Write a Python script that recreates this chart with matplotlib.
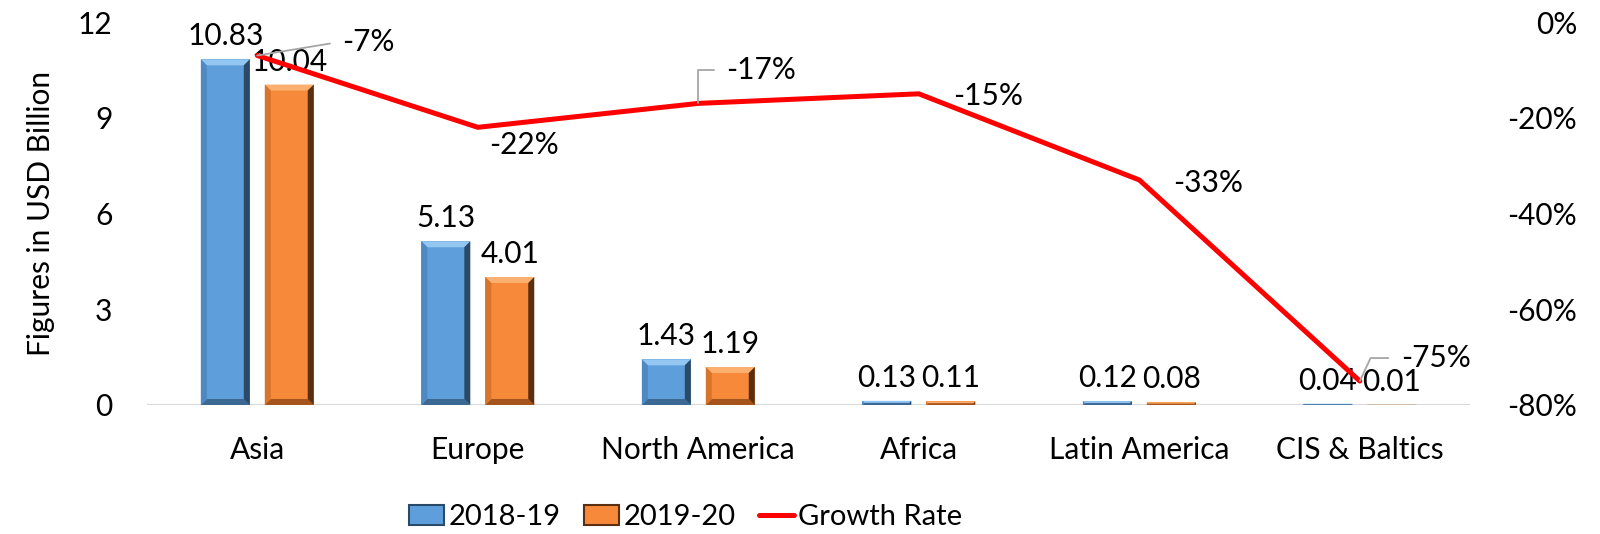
import matplotlib
matplotlib.use('Agg')
import matplotlib.pyplot as plt
from matplotlib.patches import Polygon, Patch
from matplotlib.lines import Line2D
from matplotlib.ticker import FuncFormatter
import numpy as np

# ---- data ----
regions = ['Asia', 'Europe', 'North America', 'Africa', 'Latin America', 'CIS & Baltics']
fy_2018_19 = [10.83, 5.13, 1.43, 0.13, 0.12, 0.04]
fy_2019_20 = [10.04, 4.01, 1.19, 0.11, 0.08, 0.01]
growth_rate = [-0.07, -0.22, -0.17, -0.15, -0.33, -0.75]
growth_labels = ['-7%', '-22%', '-17%', '-15%', '-33%', '-75%']

plt.rcParams['font.family'] = ['Lato', 'DejaVu Sans']
FS = 21.5

BLUE = dict(face='#5E9FDB', top='#93C6F0', left='#4E89C2', right='#2A4A68', bottom='#3C6894')
ORANGE = dict(face='#F6893A', top='#FBB06F', left='#D9742C', right='#5A2E0F', bottom='#A5541B')

fig = plt.figure(figsize=(16, 5.34), dpi=100)
ax = fig.add_axes([0.0919, 0.2416, 0.8269, 0.7172])
ax2 = ax.twinx()

x = np.arange(len(regions))
w = 0.222
off = 0.145

ax.set_xlim(-0.5, len(regions) - 0.5)
ax.set_ylim(0, 12)
ax2.set_ylim(-0.8, 0)

# pixel sizes for the bevel effect
ax_w_px = fig.get_figwidth() * fig.dpi * 0.8269
ax_h_px = fig.get_figheight() * fig.dpi * 0.7172
bev_px = 6
bx = bev_px / (ax_w_px / 6.0)
by_full = bev_px / (ax_h_px / 12.0)


def bevel_bars(xs, vals, pal):
    bars = ax.bar(xs, vals, w, color=pal['face'], edgecolor='none', zorder=2)
    for b in bars:
        x0 = b.get_x()
        x1 = x0 + b.get_width()
        h = b.get_height()
        by = min(by_full, h / 2)
        bxx = bx if h > 2 * by_full else bx * (h / (2 * by_full))
        shapes = [
            ([(x0, h), (x1, h), (x1 - bxx, h - by), (x0 + bxx, h - by)], pal['top']),
            ([(x0, 0), (x1, 0), (x1 - bxx, by), (x0 + bxx, by)], pal['bottom']),
            ([(x0, 0), (x0 + bxx, by), (x0 + bxx, h - by), (x0, h)], pal['left']),
            ([(x1, 0), (x1 - bxx, by), (x1 - bxx, h - by), (x1, h)], pal['right']),
        ]
        for pts, c in shapes:
            ax.add_patch(Polygon(pts, closed=True, facecolor=c, edgecolor='none', zorder=3))
        ax.annotate(f'{h:.2f}', (b.get_x() + b.get_width() / 2, h),
                    xytext=(0, 9), textcoords='offset pixels',
                    ha='center', va='bottom', fontsize=FS, color='#000000', zorder=6)
    return bars


bevel_bars(x - off, fy_2018_19, BLUE)
bevel_bars(x + off, fy_2019_20, ORANGE)

# baseline
ax.axhline(0, color='#D9D9D9', linewidth=1.5, zorder=1)

# growth line
ax2.plot(x, growth_rate, color='#FF0000', linewidth=3.6, solid_capstyle='round', zorder=5)

# label offsets in pixels: (dx, dy, ha, leader connection or None)
label_pos = [
    (85, 14, 'left', 'arc3,rad=0'),
    (46, -18, 'center', None),
    (28, 33, 'left', 'angle,angleA=0,angleB=90,rad=0'),
    (34, -2, 'left', None),
    (34, -3, 'left', None),
    (41, 23, 'left', 'angle,angleA=0,angleB=65,rad=0'),
]
for xi, g, lab, (dx, dy, ha, conn) in zip(x, growth_rate, growth_labels, label_pos):
    kw = {}
    if conn is not None:
        kw['arrowprops'] = dict(arrowstyle='-', color='#A6A6A6', linewidth=1.3,
                                shrinkA=7, shrinkB=0, relpos=(0, 0.5),
                                connectionstyle=conn)
    ax2.annotate(lab, (xi, g), xytext=(dx, dy), textcoords='offset pixels',
                 ha=ha, va='center', fontsize=FS, color='#000000', zorder=7, **kw)

# axes styling
for a in (ax, ax2):
    for s in a.spines.values():
        s.set_visible(False)

ax.set_xticks(x)
ax.set_xticklabels(regions, fontsize=FS)
ax.tick_params(axis='x', length=0, pad=22)
ax.set_yticks([0, 3, 6, 9, 12])
ax.tick_params(axis='y', length=0, pad=25, labelsize=FS)
ax.set_ylabel('Figures in USD Billion', fontsize=FS, labelpad=16)

ax2.set_yticks([-0.8, -0.6, -0.4, -0.2, 0])
ax2.yaxis.set_major_formatter(FuncFormatter(lambda v, p: f'{v * 100:.0f}%'.replace('-0%', '0%')))
ax2.tick_params(axis='y', length=0, pad=77, labelsize=FS)
for t in ax2.get_yticklabels():
    t.set_ha('right')

ax.set_zorder(1)
ax2.set_zorder(2)
ax2.patch.set_visible(False)

handles = [
    Patch(facecolor=BLUE['face'], edgecolor=BLUE['right'], linewidth=1.5),
    Patch(facecolor=ORANGE['face'], edgecolor=ORANGE['right'], linewidth=1.5),
    Line2D([0], [0], color='#FF0000', linewidth=3.6, solid_capstyle='round'),
]
leg = fig.legend(handles, ['2018-19', '2019-20', 'Growth Rate'], loc='center',
                 bbox_to_anchor=(686 / 1600, 17 / 534), ncol=3, frameon=False,
                 prop={'size': 21},
                 handlelength=1.2, handleheight=0.7, handletextpad=0.15, columnspacing=0.8)

fig.savefig('out.png', dpi=100)
